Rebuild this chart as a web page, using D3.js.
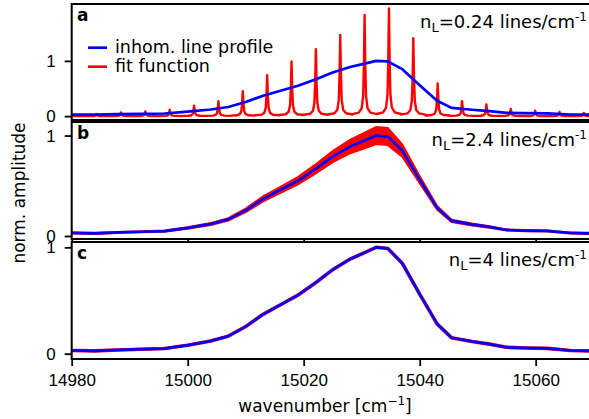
<!DOCTYPE html>
<html>
<head>
<meta charset="utf-8">
<script src="https://cdn.jsdelivr.net/npm/d3@7"></script>
<style>
  body { margin: 0; background: #fff; }
  svg { display: block; font-family: 'DejaVu Sans', Verdana, sans-serif; overflow: hidden; }
</style>
</head>
<body>
<svg id="chart" width="589" height="419"></svg>
<script>
/* ── Data ── */
const wavenumber = [14980, 14984, 14988, 14992, 14996, 15000, 15004, 15007, 15010, 15013,
  15016, 15019, 15022, 15025, 15028, 15030.5, 15032.5, 15034.5, 15037, 15040,
  15043, 15045.5, 15049, 15052, 15055, 15058, 15062, 15066, 15070];

// inhomogeneous line profile (normalised), same in all panels
const profile = [0.030, 0.026, 0.035, 0.042, 0.048, 0.080, 0.120, 0.165, 0.255, 0.370,
  0.460, 0.550, 0.665, 0.790, 0.890, 0.950, 1.000, 0.990, 0.850, 0.560,
  0.280, 0.150, 0.115, 0.090, 0.060, 0.054, 0.050, 0.030, 0.025];

// panel b: envelope of the dense fit function (n_L = 2.4)
const fitBandUpper = [0.035, 0.031, 0.040, 0.047, 0.054, 0.088, 0.130, 0.177, 0.273, 0.395,
  0.490, 0.586, 0.710, 0.845, 0.956, 1.028, 1.085, 1.075, 0.910, 0.595,
  0.298, 0.162, 0.125, 0.098, 0.066, 0.060, 0.055, 0.035, 0.030];
const fitBandLower = [0.025, 0.021, 0.030, 0.037, 0.042, 0.072, 0.110, 0.153, 0.237, 0.345,
  0.430, 0.514, 0.620, 0.735, 0.824, 0.872, 0.915, 0.905, 0.790, 0.525,
  0.262, 0.138, 0.105, 0.082, 0.054, 0.048, 0.045, 0.025, 0.020];

// panel a: fit function peaks (n_L = 0.24 lines/cm^-1)
const peakCenters = [14984.3, 14988.5, 14992.7, 14996.9, 15001.1, 15005.3, 15009.5, 15013.7,
  15017.9, 15022.1, 15026.3, 15030.5, 15034.7, 15038.9, 15043.1, 15047.3, 15051.5,
  15055.7, 15059.9, 15064.1, 15068.3];
const peakHeights = [0.040, 0.068, 0.086, 0.117, 0.19, 0.27, 0.45, 0.74,
  0.99, 1.21, 1.47, 1.83, 1.95, 1.41, 0.59, 0.27, 0.21,
  0.13, 0.10, 0.077, 0.058];
// shape of a single spike: [offset in cm^-1, fraction of peak height]
const peakShape = [[-2.1, 0.02], [-1.0, 0.035], [-0.5, 0.08], [-0.25, 0.2], [-0.12, 0.5], [0, 1],
  [0.12, 0.5], [0.25, 0.2], [0.5, 0.08], [1.0, 0.035], [2.1, 0.02]];

const xTicks = [14980, 15000, 15020, 15040, 15060];
const yTicks = [0, 1];
const panelLetters = ['a', 'b', 'c'];
const densities = ['0.24', '2.4', '4'];
const legendLabels = ['inhom. line profile', 'fit function'];

/* ── Layout ── */
const BLUE = '#0000ff';
const RED = '#ff0000';
const FS = 17;

const layout = [
  { top: 4, bottom: 120, yDomain: [-0.07, 2.03] },
  { top: 122, bottom: 239, yDomain: [-0.03, 1.135] },
  { top: 242, bottom: 359, yDomain: [-0.05, 1.05] },
];

const svg = d3.select('#chart');
svg.append('rect').attr('width', 589).attr('height', 419).attr('fill', '#fff');

const x = d3.scaleLinear().domain([14980, 15070]).range([71.7, 593.7]);
const xL = x.range()[0], xR = x.range()[1];

const profilePts = wavenumber.map((w, i) => [w, profile[i]]);

const fitA = [[14980, 0]];
peakCenters.forEach((c, i) => {
  peakShape.forEach(([dx, f]) => fitA.push([c + dx, f * peakHeights[i]]));
});
fitA.push([15070, 0]);

layout.forEach((p, pi) => {
  const y = d3.scaleLinear().domain(p.yDomain).range([p.bottom, p.top]);
  const g = svg.append('g');

  g.append('rect')
    .attr('x', xL).attr('y', p.top)
    .attr('width', xR - xL).attr('height', p.bottom - p.top)
    .attr('fill', '#fff');

  const clipId = 'clip-' + pi;
  svg.append('clipPath').attr('id', clipId)
    .append('rect')
    .attr('x', xL).attr('y', p.top)
    .attr('width', xR - xL).attr('height', p.bottom - p.top);

  const plot = g.append('g').attr('clip-path', `url(#${clipId})`);
  const line = d3.line().x((d) => x(d[0])).y((d) => y(d[1]));

  if (pi === 0) {
    plot.append('path')
      .attr('d', line(fitA))
      .attr('fill', 'none').attr('stroke', RED)
      .attr('stroke-width', 2.4).attr('stroke-linejoin', 'round');
  } else if (pi === 1) {
    const area = d3.area()
      .x((d, i) => x(wavenumber[i]))
      .y0((d, i) => y(fitBandLower[i]))
      .y1((d, i) => y(fitBandUpper[i]));
    plot.append('path').attr('d', area(profile)).attr('fill', RED);
    [fitBandUpper, fitBandLower].forEach((arr) => {
      plot.append('path')
        .attr('d', line(wavenumber.map((w, i) => [w, arr[i]])))
        .attr('fill', 'none').attr('stroke', RED).attr('stroke-width', 2);
    });
  } else {
    plot.append('path')
      .attr('d', line(profilePts))
      .attr('fill', 'none').attr('stroke', RED).attr('stroke-width', 3.6);
  }

  plot.append('path')
    .attr('d', line(profilePts))
    .attr('fill', 'none').attr('stroke', BLUE)
    .attr('stroke-width', 2.7).attr('stroke-linejoin', 'round');

  /* ── Axes ── */
  const xAxis = g.append('g')
    .attr('transform', `translate(0,${p.bottom})`)
    .call(d3.axisBottom(x).tickValues(xTicks).tickSize(7).tickPadding(8)
      .tickFormat(pi === 2 ? d3.format('d') : ''));
  xAxis.select('.domain').remove();
  xAxis.selectAll('line').attr('stroke', '#000').attr('stroke-width', 1.8);
  xAxis.selectAll('text').attr('font-size', FS).attr('font-family', null).attr('fill', '#000');

  const yAxis = g.append('g')
    .attr('transform', `translate(${xL},0)`)
    .call(d3.axisLeft(y).tickValues(yTicks).tickSize(7).tickPadding(9).tickFormat(d3.format('d')));
  yAxis.select('.domain').remove();
  yAxis.selectAll('line').attr('stroke', '#000').attr('stroke-width', 1.8);
  yAxis.selectAll('text').attr('font-size', FS).attr('font-family', null).attr('fill', '#000');

  g.append('rect')
    .attr('x', xL).attr('y', p.top)
    .attr('width', xR - xL).attr('height', p.bottom - p.top)
    .attr('fill', 'none').attr('stroke', '#000').attr('stroke-width', 2);

  /* ── Panel letter ── */
  g.append('text')
    .attr('x', 77).attr('y', p.top + 17)
    .attr('font-size', FS).attr('font-weight', 'bold')
    .text(panelLetters[pi]);

  /* ── Line density annotation ── */
  const ann = g.append('text')
    .attr('x', 587).attr('y', p.top + 24)
    .attr('text-anchor', 'end')
    .attr('font-size', 18);
  ann.append('tspan').text('n');
  ann.append('tspan').attr('font-size', 13).attr('dy', 4).text('L');
  ann.append('tspan').attr('dy', -4).text(`=${densities[pi]} lines/cm`);
  ann.append('tspan').attr('font-size', 12).attr('dy', -7).text('-1');
});

/* ── Legend (panel a) ── */
const legend = svg.append('g');
[BLUE, RED].forEach((c, i) => {
  const ly = 47.7 + i * 19;
  legend.append('line')
    .attr('x1', 88).attr('x2', 107).attr('y1', ly).attr('y2', ly)
    .attr('stroke', c).attr('stroke-width', 2.7);
  legend.append('text')
    .attr('x', 115).attr('y', ly + 5.5)
    .attr('font-size', 17.5)
    .text(legendLabels[i]);
});

/* ── Axis titles ── */
const xt = svg.append('text')
  .attr('x', 325).attr('y', 412)
  .attr('text-anchor', 'middle').attr('font-size', FS);
xt.append('tspan').text('wavenumber [cm');
xt.append('tspan').attr('font-size', 12).attr('dy', -7).text('\u22121');
xt.append('tspan').attr('dy', 7).text(']');

svg.append('text')
  .attr('transform', 'translate(25,193) rotate(-90)')
  .attr('text-anchor', 'middle').attr('font-size', FS)
  .text('norm. amplitude');
</script>
</body>
</html>
